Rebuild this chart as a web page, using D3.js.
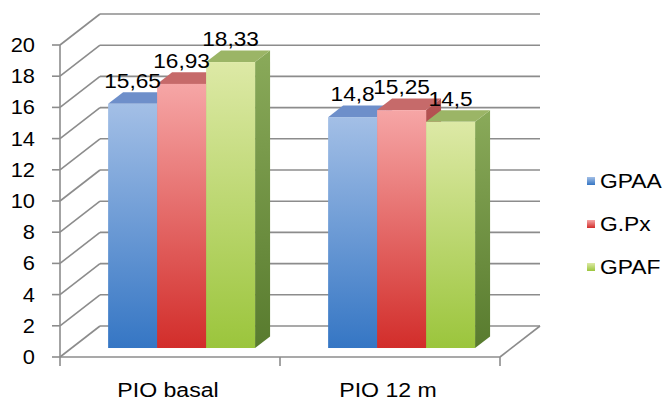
<!DOCTYPE html>
<html>
<head>
<meta charset="utf-8">
<script src="https://cdn.jsdelivr.net/npm/d3@7"></script>
<style>
  html, body { margin: 0; padding: 0; background: #fff; }
  svg { display: block; }
  text { font-family: "Liberation Sans", Arial, sans-serif; fill: #000; }
</style>
</head>
<body>
<svg id="chart" width="670" height="402"></svg>
<script>
// Chart data
const categories = ["PIO basal", "PIO 12 m"];
const seriesNames = ["GPAA", "G.Px", "GPAF"];
const gpaa = [15.65, 14.8];
const gpx = [16.93, 15.25];
const gpaf = [18.33, 14.5];
const yTicks = [0, 2, 4, 6, 8, 10, 12, 14, 16, 18, 20];

const seriesValues = [gpaa, gpx, gpaf];

// Face colours per series: front gradient (top, bottom), top face, side gradient
const palette = [
  { front: ["#a3bfe6", "#3576c4"], top: "#6e8fca", side: ["#5b7fbf", "#2a5a9a"] },
  { front: ["#f6a6a6", "#d22d2a"], top: "#c66a6a", side: ["#b65454", "#8e2a28"] },
  { front: ["#dde9a6", "#9bc53c"], top: "#9bb566", side: ["#8aaa5a", "#587b2e"] }
];

const svg = d3.select("#chart");

// Oblique depth of the plot box
const DX = 40, DY = -31;
const F0 = 0.29, F1 = 0.665;   // depth of bar front and back faces

const x = d3.scaleBand().domain(categories).range([60, 500])
  .paddingInner(0.332).paddingOuter(0.166);
const xs = d3.scaleBand().domain(seriesNames).range([0, x.bandwidth()]).padding(0);
const y = d3.scaleLinear().domain([0, 20]).range([357, 45]);

const P = (px, v, f) => [px + f * DX, y(v) + f * DY];

// Gradients
const defs = svg.append("defs");
palette.forEach((c, i) => {
  const g1 = defs.append("linearGradient").attr("id", "front" + i)
    .attr("x1", 0).attr("y1", 0).attr("x2", 0).attr("y2", 1);
  g1.append("stop").attr("offset", "0%").attr("stop-color", c.front[0]);
  g1.append("stop").attr("offset", "100%").attr("stop-color", c.front[1]);
  const g2 = defs.append("linearGradient").attr("id", "side" + i)
    .attr("x1", 0).attr("y1", 0).attr("x2", 0).attr("y2", 1);
  g2.append("stop").attr("offset", "0%").attr("stop-color", c.side[0]);
  g2.append("stop").attr("offset", "100%").attr("stop-color", c.side[1]);
});

// Walls and grid
const grid = svg.append("g").attr("stroke", "#8c8c8c").attr("stroke-width", 1.6).attr("fill", "none");
const x0 = x.range()[0], x1 = x.range()[1];
yTicks.forEach(t => {
  // back wall line
  grid.append("line")
    .attr("x1", x0 + DX).attr("y1", y(t) + DY)
    .attr("x2", x1 + DX).attr("y2", y(t) + DY);
  // side wall line
  grid.append("line")
    .attr("x1", x0).attr("y1", y(t))
    .attr("x2", x0 + DX).attr("y2", y(t) + DY);
  // tick mark
  grid.append("line")
    .attr("x1", x0 - 8).attr("y1", y(t))
    .attr("x2", x0).attr("y2", y(t));
});
// vertical axis
grid.append("line").attr("x1", x0).attr("y1", y(0)).attr("x2", x0).attr("y2", y(20));
// floor front and right edges
grid.append("line").attr("x1", x0).attr("y1", y(0)).attr("x2", x1).attr("y2", y(0));
grid.append("line").attr("x1", x1).attr("y1", y(0)).attr("x2", x1 + DX).attr("y2", y(0) + DY);
// category tick marks
const catTicks = [x0].concat(categories.map(c => x(c) + x.bandwidth() + x.step() * x.paddingInner() / 2));
catTicks[catTicks.length - 1] = x1;
catTicks.forEach(px => {
  grid.append("line").attr("x1", px).attr("y1", y(0)).attr("x2", px).attr("y2", y(0) + 9);
});

// Y tick labels
svg.append("g").selectAll("text").data(yTicks).join("text")
  .attr("transform", d => `translate(35,${y(d) + 7}) scale(1.12,1)`)
  .attr("text-anchor", "end")
  .style("font-size", "19.5px")
  .text(d => d);

// Bars, drawn left to right so each bar hides its neighbour's side face
const bars = svg.append("g");
const labels = [];
categories.forEach((cat, ci) => {
  seriesNames.forEach((s, si) => {
    const v = seriesValues[si][ci];
    const left = x(cat) + xs(s);
    const right = left + xs.bandwidth();
    const poly = pts => pts.map(p => p.join(",")).join(" ");
    // side face
    bars.append("polygon")
      .attr("points", poly([P(right, v, F0), P(right, 0, F0), P(right, 0, F1), P(right, v, F1)]))
      .attr("fill", `url(#side${si})`);
    // top face
    bars.append("polygon")
      .attr("points", poly([P(left, v, F0), P(right, v, F0), P(right, v, F1), P(left, v, F1)]))
      .attr("fill", palette[si].top);
    // front face
    const tl = P(left, v, F0), br = P(right, 0, F0);
    bars.append("rect")
      .attr("x", tl[0]).attr("y", tl[1])
      .attr("width", br[0] - tl[0]).attr("height", br[1] - tl[1])
      .attr("fill", `url(#front${si})`);
    labels.push({ x: (tl[0] + br[0]) / 2, y: tl[1] - 16, v });
  });
});

// Value labels
svg.append("g").selectAll("text").data(labels).join("text")
  .attr("transform", d => `translate(${d.x},${d.y}) scale(1.08,1)`)
  .attr("text-anchor", "middle")
  .style("font-size", "21px")
  .text(d => String(d.v).replace(".", ","));

// Category labels
svg.append("g").selectAll("text").data(categories).join("text")
  .attr("transform", d => `translate(${x(d) + x.bandwidth() / 2 - 2},397) scale(1.1,1)`)
  .attr("text-anchor", "middle")
  .style("font-size", "21px")
  .text(d => d);

// Legend
const legend = svg.append("g");
seriesNames.forEach((s, i) => {
  const cy = 181 + i * 43;
  legend.append("rect")
    .attr("x", 587).attr("y", cy - 4).attr("width", 8).attr("height", 8)
    .attr("fill", `url(#front${i})`);
  legend.append("text")
    .attr("transform", `translate(600,${cy + 7}) scale(1.17,1)`)
    .style("font-size", "19.5px")
    .text(s);
});
</script>
</body>
</html>
